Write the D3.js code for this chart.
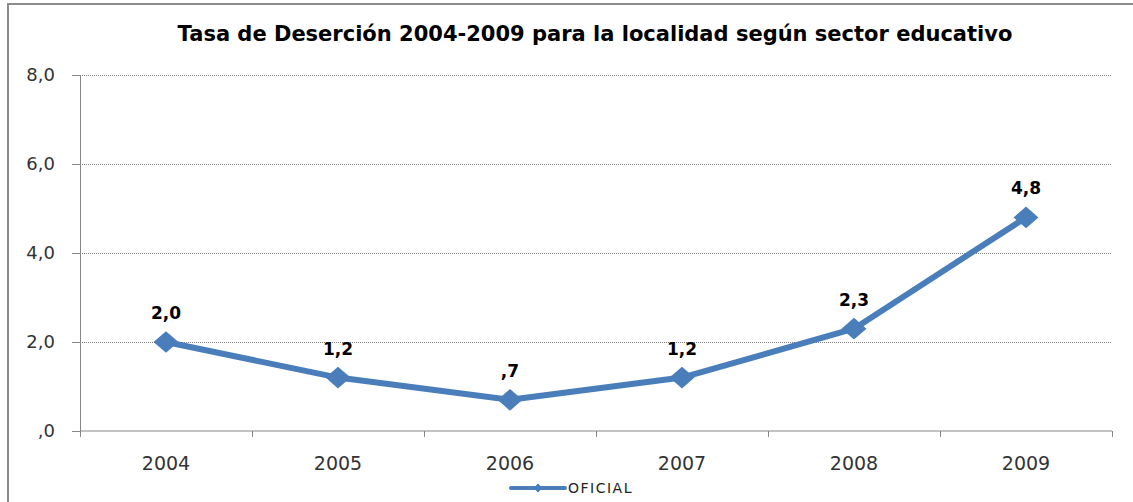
<!DOCTYPE html>
<html>
<head>
<meta charset="utf-8">
<script src="https://cdn.jsdelivr.net/npm/d3@7"></script>
<style>
  body { margin: 0; background: #fff; }
  svg { display: block; }
</style>
</head>
<body>
<svg class="line-chart"></svg>
<script>
const years = ['2004', '2005', '2006', '2007', '2008', '2009'];
const oficial = [2.0, 1.2, 0.7, 1.2, 2.3, 4.8];
const yTicks = [0, 2, 4, 6, 8];
const title = 'Tasa de Deserción 2004-2009 para la localidad según sector educativo';
const seriesName = 'OFICIAL';

const width = 1133;
const height = 502;
const margin = { top: 75, right: 21, bottom: 71, left: 80 };
const lineColor = '#4a7ebb';

// 1,2 / ,7 / ,0 style labels
const fmt = v => d3.format('.1f')(v).replace('.', ',').replace(/^0,/, ',');

const svg = d3.select('.line-chart')
  .attr('width', width)
  .attr('height', height);

// outer frame
svg.append('rect')
  .attr('x', 8)
  .attr('y', 4)
  .attr('width', width + 10)
  .attr('height', height + 10)
  .attr('fill', 'none')
  .attr('stroke', '#8c8c8c')
  .attr('stroke-width', 2);

svg.append('text')
  .attr('x', 595)
  .attr('y', 41)
  .attr('text-anchor', 'middle')
  .attr('font-family', 'DejaVu Sans, sans-serif')
  .attr('font-weight', 'bold')
  .attr('font-size', 21)
  .attr('fill', '#000')
  .text(title);

const surface = svg.append('g')
  .attr('transform', `translate(${margin.left}, ${margin.top})`);

const w = width - margin.left - margin.right;
const h = height - margin.top - margin.bottom;

const x = d3.scaleBand().domain(years).range([0, w]);
const y = d3.scaleLinear().domain([0, 8]).range([h, 0]);

// gridlines
surface.append('g')
  .selectAll('line')
  .data(yTicks.filter(t => t > 0))
  .join('line')
  .attr('x1', 0)
  .attr('x2', w)
  .attr('y1', d => y(d) + 0.5)
  .attr('y2', d => y(d) + 0.5)
  .attr('stroke', '#808080')
  .attr('stroke-width', 1)
  .attr('stroke-dasharray', '1,1');

// Y axis
const yAxis = surface.append('g')
  .call(d3.axisLeft(y).tickValues(yTicks).tickFormat(fmt).tickSize(8).tickSizeOuter(0));
yAxis.select('.domain').attr('stroke', '#868686');
yAxis.selectAll('.tick line').attr('stroke', '#868686');
yAxis.selectAll('.tick text')
  .attr('x', -25)
  .attr('font-family', 'DejaVu Sans, sans-serif')
  .attr('font-size', 18)
  .attr('fill', '#333');

// X axis with ticks between categories
const xAxis = surface.append('g')
  .attr('transform', `translate(0, ${h})`);
xAxis.append('line')
  .attr('x1', 0)
  .attr('x2', w)
  .attr('stroke', '#868686');
xAxis.selectAll('.xtick')
  .data(years.concat(['end']))
  .join('line')
  .attr('class', 'xtick')
  .attr('x1', (d, i) => Math.round(i * x.step()) + 0.5)
  .attr('x2', (d, i) => Math.round(i * x.step()) + 0.5)
  .attr('y1', 0)
  .attr('y2', 6)
  .attr('stroke', '#868686');
xAxis.selectAll('.xlabel')
  .data(years)
  .join('text')
  .attr('class', 'xlabel')
  .attr('x', d => x(d) + x.bandwidth() / 2)
  .attr('y', 39)
  .attr('text-anchor', 'middle')
  .attr('font-family', 'DejaVu Sans, sans-serif')
  .attr('font-size', 19)
  .attr('fill', '#333')
  .text(d => d);

const data = years.map((yr, i) => ({ year: yr, value: oficial[i] }));
const cx = d => x(d.year) + x.bandwidth() / 2;

const valueline = d3.line()
  .x(cx)
  .y(d => y(d.value));

surface.append('path')
  .datum(data)
  .attr('d', valueline)
  .attr('fill', 'none')
  .attr('stroke', lineColor)
  .attr('stroke-width', 6)
  .attr('stroke-linejoin', 'round');

const diamond = d3.symbol().type(d3.symbolDiamond2).size(300);
surface.selectAll('.marker')
  .data(data)
  .join('path')
  .attr('class', 'marker')
  .attr('d', diamond)
  .attr('transform', d => `translate(${cx(d)}, ${y(d.value)}) scale(1.15, 1)`)
  .attr('fill', lineColor);

surface.selectAll('.dlabel')
  .data(data)
  .join('text')
  .attr('class', 'dlabel')
  .attr('x', cx)
  .attr('y', d => y(d.value) - 23)
  .attr('text-anchor', 'middle')
  .attr('font-family', 'DejaVu Sans, sans-serif')
  .attr('font-weight', 'bold')
  .attr('font-size', 17)
  .attr('fill', '#000')
  .text(d => fmt(d.value));

// legend
const legend = svg.append('g').attr('transform', 'translate(511, 488)');
legend.append('line')
  .attr('x1', 0)
  .attr('x2', 54)
  .attr('stroke', lineColor)
  .attr('stroke-width', 4)
  .attr('stroke-linecap', 'round');
legend.append('path')
  .attr('d', d3.symbol().type(d3.symbolDiamond2).size(50))
  .attr('transform', 'translate(27, 0)')
  .attr('fill', lineColor);
legend.append('text')
  .attr('x', 57)
  .attr('y', 5)
  .attr('font-family', 'DejaVu Sans, sans-serif')
  .attr('font-size', 14)
  .attr('letter-spacing', 1.5)
  .attr('fill', '#222')
  .text(seriesName);
</script>
</body>
</html>
